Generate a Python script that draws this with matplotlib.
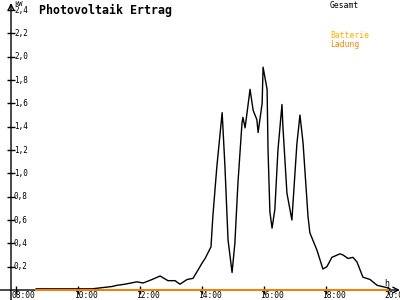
import matplotlib
matplotlib.use('Agg')
import matplotlib.pyplot as plt
from matplotlib.transforms import offset_copy

# Ertrag (kW) ueber Uhrzeit (Stunden, dezimal)
zeit = [8.65, 10.45, 11.10, 11.26, 11.52, 11.90, 12.10, 12.39, 12.65, 12.90,
        13.13, 13.29, 13.52, 13.71, 13.87, 14.00, 14.10, 14.29, 14.35, 14.48,
        14.65, 14.74, 14.84, 14.97, 15.06, 15.16, 15.29, 15.32, 15.39, 15.55,
        15.65, 15.77, 15.81, 15.94, 15.97, 16.10, 16.13, 16.19, 16.26, 16.35,
        16.45, 16.58, 16.61, 16.74, 16.90, 17.06, 17.16, 17.26, 17.42, 17.48,
        17.71, 17.90, 18.03, 18.19, 18.45, 18.55, 18.71, 18.87, 19.00, 19.19,
        19.42, 19.65, 19.97, 20.06]
gesamt = [0.01, 0.01, 0.03, 0.04, 0.05, 0.07, 0.06, 0.09, 0.12, 0.08,
          0.08, 0.05, 0.09, 0.10, 0.17, 0.23, 0.27, 0.37, 0.63, 1.06,
          1.52, 1.06, 0.43, 0.15, 0.40, 0.92, 1.43, 1.48, 1.39, 1.72,
          1.54, 1.46, 1.35, 1.60, 1.91, 1.72, 1.20, 0.67, 0.53, 0.69,
          1.20, 1.59, 1.40, 0.83, 0.60, 1.25, 1.50, 1.26, 0.63, 0.49,
          0.34, 0.18, 0.20, 0.28, 0.31, 0.30, 0.27, 0.28, 0.24, 0.11,
          0.09, 0.04, 0.02, 0.01]

# Batterie-Ladung
ladung_zeit = [8.65, 20.0]
ladung = [0.0, 0.0]

y_ticks = [0.2, 0.4, 0.6, 0.8, 1.0, 1.2, 1.4, 1.6, 1.8, 2.0, 2.2, 2.4]
y_labels = ['0,2', '0,4', '0,6', '0,8', '1,0', '1,2', '1,4', '1,6', '1,8',
            '2,0', '2,2', '2,4']
x_ticks = [8, 10, 12, 14, 16, 18, 20]
x_labels = ['08:00', '10:00', '12:00', '14:00', '16:00', '18:00', '20:00']

ORANGE = '#ff8000'
GELB = '#ffb000'
MONO = 'DejaVu Sans Mono'

fig = plt.figure(figsize=(4, 3), dpi=100)
ax = fig.add_axes([11 / 400, 10 / 300, 387 / 400, 287 / 300])
ax.set_xlim(8 - 5 / 31, 8 + 382 / 31)
ax.set_ylim(0, 2.4 * 287 / 280)
for s in ax.spines.values():
    s.set_visible(False)

ax.plot(zeit, gesamt, color='black', lw=1)
ax.plot(ladung_zeit, ladung, color=ORANGE, lw=1.4, zorder=5, clip_on=False)

# Achsen mit Pfeilen
ax.annotate('', xy=(1.005, 0), xytext=(-0.03, 0), xycoords='axes fraction',
            arrowprops=dict(arrowstyle='->', lw=1, color='black',
                            shrinkA=0, shrinkB=0), annotation_clip=False)
ax.annotate('', xy=(0, 1.0), xytext=(0, -0.035), xycoords='axes fraction',
            arrowprops=dict(arrowstyle='->', lw=1, color='black',
                            shrinkA=0, shrinkB=0), annotation_clip=False)

ax.set_xticks(x_ticks)
ax.set_yticks(y_ticks)
ax.tick_params(axis='both', direction='inout', length=6, width=1,
               labelleft=False, labelbottom=False)

ytrans = offset_copy(ax.get_yaxis_transform(), fig=fig, x=3, y=0, units='dots')
for v, lab in zip(y_ticks, y_labels):
    ax.text(0, v, lab, transform=ytrans, ha='left', va='center',
            fontsize=5.5, family=MONO, clip_on=False)

xtrans = offset_copy(ax.get_xaxis_transform(), fig=fig, x=-4, y=-6, units='dots')
for t, lab in zip(x_ticks, x_labels):
    ax.text(t, 0, lab, transform=xtrans, ha='left', va='center',
            fontsize=5.7, family=MONO, clip_on=False)

fig.text(14 / 400, 1 - 4 / 300, 'kW', fontsize=5, family=MONO, va='center')
fig.text(384 / 400, 1 - 283 / 300, 'h', fontsize=6, family=MONO, va='center')
fig.text(39 / 400, 1 - 10 / 300, 'Photovoltaik Ertrag', fontsize=8.4,
         family=MONO, weight='bold', va='center')
fig.text(330 / 400, 1 - 6 / 300, 'Gesamt', fontsize=5.8, family=MONO,
         va='center', color='black')
fig.text(330 / 400, 1 - 36 / 300, 'Batterie', fontsize=5.8, family=MONO,
         va='center', color=GELB)
fig.text(330 / 400, 1 - 44 / 300, 'Ladung', fontsize=5.8, family=MONO,
         va='center', color=ORANGE)

fig.savefig('out.png', dpi=100)
